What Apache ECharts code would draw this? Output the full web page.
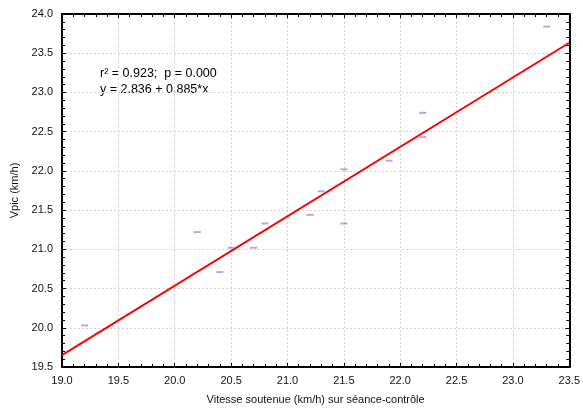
<!DOCTYPE html>
<html><head><meta charset="utf-8">
<script src="https://cdn.jsdelivr.net/npm/echarts@6/dist/echarts.min.js"></script>
<style>html,body{margin:0;padding:0;background:#fff}#c{width:583px;height:410px}</style>
</head><body><div id="c"></div>
<script>
const xValues = [19.2, 20.2, 20.5, 20.7, 20.4, 20.8, 21.2, 21.3, 21.5, 21.5, 21.9, 22.2, 22.2, 23.3];
const yValues = [20.03, 21.22, 21.02, 21.02, 20.71, 21.33, 21.44, 21.74, 21.33, 22.02, 22.13, 22.43, 22.74, 23.84];
const regIntercept = 2.836;
const regSlope = 0.885;
const xTicks = [19.0, 19.5, 20.0, 20.5, 21.0, 21.5, 22.0, 22.5, 23.0, 23.5];
const yTicks = [19.5, 20.0, 20.5, 21.0, 21.5, 22.0, 22.5, 23.0, 23.5, 24.0];
const annotationLines = ['r² = 0.923;  p = 0.000', 'y = 2.836 + 0.885*x'];
const xName = 'Vitesse soutenue (km/h) sur séance-contrôle';
const yName = 'Vpic (km/h)';

const xMin = xTicks[0], xMax = xTicks[xTicks.length - 1];
const yMin = yTicks[0], yMax = yTicks[yTicks.length - 1];
const pts = xValues.map((x, i) => [x, yValues[i]]);
const regLine = [[xMin, regIntercept + regSlope * xMin], [xMax, regIntercept + regSlope * xMax]];

const font = 'Liberation Sans, Arial, sans-serif';
const tickCommon = { show: true, inside: true, length: 4, lineStyle: { color: '#000', width: 1 } };
const minorCommon = { show: true, splitNumber: 5, length: 3, lineStyle: { color: '#000', width: 1 } };
const lineCommon = { show: true, onZero: false, lineStyle: { color: '#000', width: 2 } };
const gridLine = { show: true, lineStyle: { color: '#d2d2d2', type: [2, 2], width: 1 } };

const chart = echarts.init(document.getElementById('c'), null, { renderer: 'canvas' });
chart.setOption({
  animation: false,
  backgroundColor: '#fff',
  grid: { left: 62, right: 12, top: 14, bottom: 43 },
  xAxis: [{
    type: 'value', min: xMin, max: xMax, interval: 0.5, position: 'bottom',
    name: xName, nameLocation: 'middle', nameGap: 27,
    nameTextStyle: { fontFamily: font, fontSize: 11, color: '#111' },
    axisLine: lineCommon, axisTick: tickCommon, minorTick: minorCommon,
    axisLabel: { fontFamily: font, fontSize: 11, color: '#111', margin: 8, formatter: v => v.toFixed(1) },
    splitLine: gridLine
  }, {
    type: 'value', min: xMin, max: xMax, interval: 0.5, position: 'top',
    axisLine: lineCommon, axisTick: tickCommon, minorTick: minorCommon,
    axisLabel: { show: false }, splitLine: { show: false }
  }],
  yAxis: [{
    type: 'value', min: yMin, max: yMax, interval: 0.5, position: 'left',
    name: yName, nameLocation: 'middle', nameGap: 38,
    nameTextStyle: { fontFamily: font, fontSize: 11, color: '#111' },
    axisLine: lineCommon, axisTick: tickCommon, minorTick: minorCommon,
    axisLabel: { fontFamily: font, fontSize: 11, color: '#111', margin: 9, formatter: v => v.toFixed(1) },
    splitLine: gridLine
  }, {
    type: 'value', min: yMin, max: yMax, interval: 0.5, position: 'right',
    axisLine: lineCommon, axisTick: tickCommon, minorTick: minorCommon,
    axisLabel: { show: false }, splitLine: { show: false }
  }],
  graphic: [{
    type: 'text', left: 100, top: 66,
    style: { text: annotationLines.join('\n'), fontFamily: font, fontSize: 12.5, lineHeight: 16, fill: '#000' }
  }],
  series: [{
    type: 'line', data: regLine, showSymbol: false, symbol: 'none',
    lineStyle: { color: '#ff0000', width: 2 }, z: 3
  }, {
    type: 'scatter', data: pts, symbol: 'rect', symbolSize: [7, 2],
    itemStyle: { color: 'rgba(90,90,255,0.65)' }, z: 4
  }]
});
</script>
</body></html>
